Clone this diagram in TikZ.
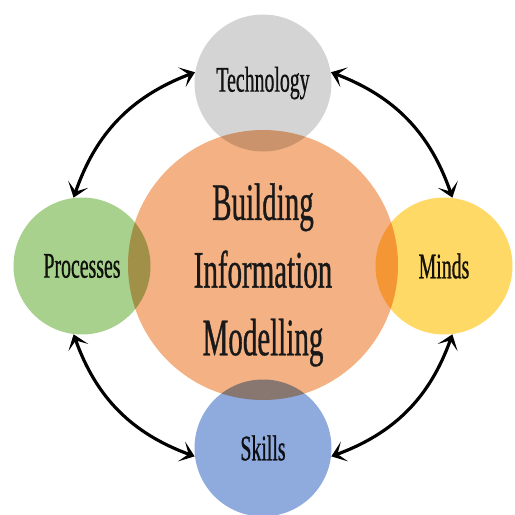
\documentclass[tikz,border=0pt]{standalone}
\usepackage{fontspec}
\setmainfont{Liberation Serif}[FakeStretch=0.55, FakeBold=0.6]
\usepackage{tikz}
\usetikzlibrary{arrows.meta, positioning, calc}
\usepackage{xcolor}
\definecolor{bimorange}{RGB}{244,177,131}
\definecolor{techgris}{RGB}{212,212,212}
\definecolor{procvert}{RGB}{169,209,142}
\definecolor{mindsjaune}{RGB}{255,217,102}
\definecolor{skillsbleu}{RGB}{143,170,220}
\definecolor{textenoir}{RGB}{25,25,25}

\tikzset{
  satellite/.style={circle, minimum size=2.74cm, inner sep=0pt,
    text=textenoir, font=\fontsize{20.5}{24}\selectfont},
  fleche/.style={{Stealth[length=2.8mm,width=4.2mm,inset=1.5mm]}-{Stealth[length=2.8mm,width=4.2mm,inset=1.5mm]},
    line width=1.8pt, black}
}

\begin{document}
\begin{tikzpicture}

    \useasboundingbox (-5.26,-5.0) rectangle (5.04,5.3);

    \begin{scope}[blend group=multiply]
    % Cercle central
    \node[circle, fill=bimorange, minimum size=5.4cm, inner sep=0pt]
      (bim) at (0,0) {};

    % Les quatre cercles autour
    \node[satellite, fill=techgris]   (tech)   at (0, 3.64)    {Technology};
    \node[satellite, fill=procvert]   (proc)   at (-3.62,-0.02) {Processes};
    \node[satellite, fill=mindsjaune] (minds)  at (3.62,-0.02)  {Minds};
    \node[satellite, fill=skillsbleu] (skills) at (0,-3.66)    {Skills};
    \end{scope}

    % Titre au centre
    \node[text=textenoir, align=center, font=\fontsize{30}{38.5}\selectfont]
      (bimtexte) at ([yshift=-0.2cm]bim.center)
      {Building\\Information\\Modelling};

    % Fleches entre les cercles
    \draw[fleche] (tech.171)   to[bend right=25] (proc.97);
    \draw[fleche] (proc.263)   to[bend right=25] (skills.187);
    \draw[fleche] (skills.353) to[bend right=25] (minds.277);
    \draw[fleche] (minds.83)   to[bend right=25] (tech.9);

\end{tikzpicture}
\end{document}
